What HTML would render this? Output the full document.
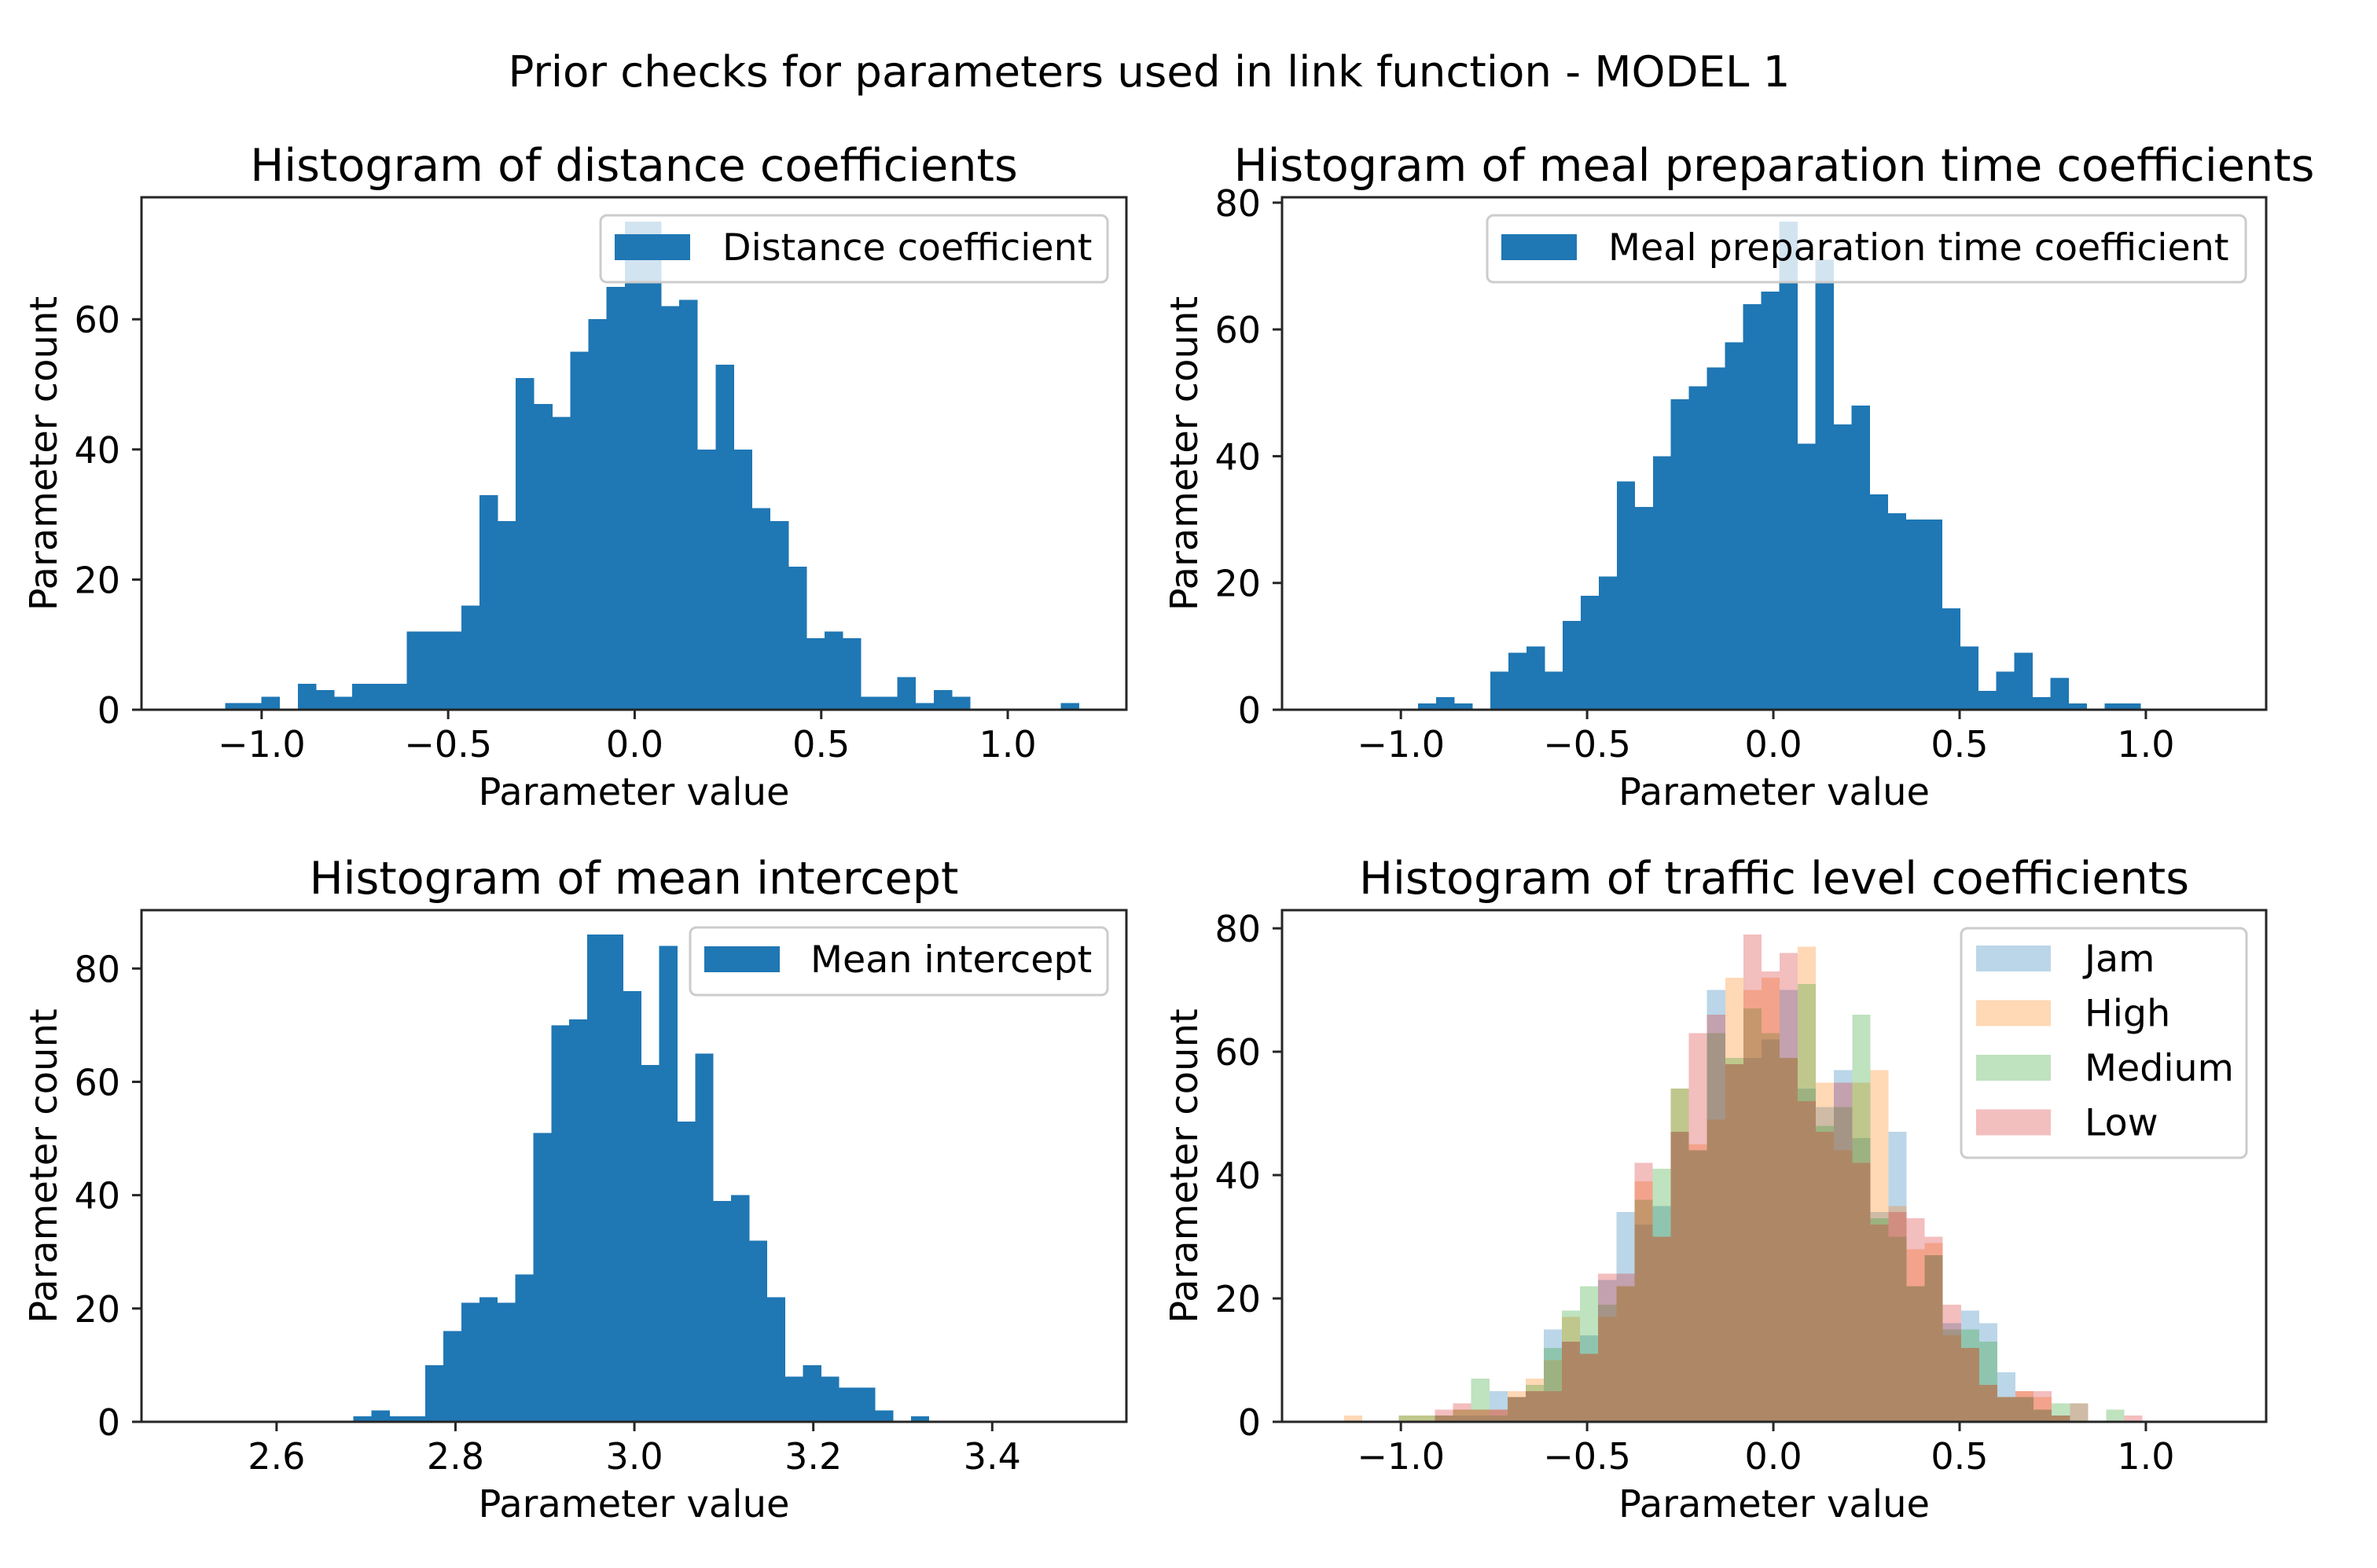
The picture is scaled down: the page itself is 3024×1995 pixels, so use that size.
<!DOCTYPE html>
<html><head><meta charset="utf-8"><style>
html,body{margin:0;padding:0;background:#fff;}
svg{display:block;font-family:"DejaVu Sans","Liberation Sans",sans-serif;}
</style></head><body>
<svg id="fig" width="3024" height="1995" viewBox="0 0 3024 1995" xmlns="http://www.w3.org/2000/svg">
<defs><clipPath id="figclip"><rect x="0" y="0" width="2944" height="1995"/></clipPath></defs>
<rect x="0" y="0" width="3024" height="1995" fill="#fff"/>
<text x="1462" y="110" font-size="54.6" text-anchor="middle">Prior checks for parameters used in link function - MODEL 1</text>
</svg>
<script>
// ---- data ----
const distStart = -1.098, distWidth = 0.0487;
const distCounts = [1,1,2,0,4,3,2,4,4,4,12,12,12,16,33,29,51,47,45,55,60,65,75,75,62,63,40,53,40,31,29,22,11,12,11,2,2,5,1,3,2,0,0,0,0,0,1];
const mealStart = -0.954, mealWidth = 0.0485;
const mealCounts = [1,2,1,0,6,9,10,6,14,18,21,36,32,40,49,51,54,58,64,66,77,42,71,45,48,34,31,30,30,16,10,3,6,9,2,5,1,0,1,1];
const interceptStart = 2.686, interceptWidth = 0.0201;
const interceptCounts = [1,2,1,1,10,16,21,22,21,26,51,70,71,86,86,76,63,84,53,65,39,40,32,22,8,10,8,6,6,2,0,1];
const trafficStart = -1.152, trafficWidth = 0.0487;
const trafficLabels = ["Jam","High","Medium","Low"];
const jamCounts =    [0,0,0,0,0,1,1,1,5,4,5,15,13,14,23,34,32,35,47,44,70,58,59,62,70,54,51,57,46,34,47,22,27,16,18,16,8,4,2,1,3,0,0,0];
const highCounts =   [1,0,0,1,1,1,2,2,2,5,7,10,17,11,17,22,39,30,54,45,49,72,70,72,59,77,55,44,55,57,35,28,29,14,12,6,4,5,4,1,3,0,0,0];
const mediumCounts = [0,0,0,1,1,1,2,7,1,4,6,12,18,22,19,22,36,41,54,44,63,59,67,63,59,71,48,51,66,33,30,22,27,15,15,13,4,4,2,3,0,0,2,0];
const lowCounts =    [0,0,0,0,0,2,3,2,2,4,5,5,13,11,24,24,42,30,47,63,66,58,79,73,76,52,47,55,42,32,34,33,30,19,12,6,4,5,5,1,0,0,0,1];
const coefTicks = [-1,-0.5,0,0.5,1];
const coefTickLabels = ["\u22121.0","\u22120.5","0.0","0.5","1.0"];
const interceptTicks = [2.6,2.8,3.0,3.2,3.4];
const interceptTickLabels = ["2.6","2.8","3.0","3.2","3.4"];
const yTicksDist = [0,20,40,60];
const yTicks80 = [0,20,40,60,80];

const NS = "http://www.w3.org/2000/svg";
const fig = document.getElementById('fig');
function mk(tag, attrs, parent){ const e=document.createElementNS(NS,tag); for(const k in attrs) e.setAttribute(k,attrs[k]); (parent||fig).appendChild(e); return e; }

const colors = ["#1f77b4","#ff7f0e","#2ca02c","#d62728"];

function panel(opt){
  const g = mk('g',{});
  
  
  const L=opt.x0, R=opt.x1, T=opt.y0, B=opt.y1;
  let maxC=0; opt.series.forEach(s=>s.counts.forEach(c=>{if(c>maxC)maxC=c;}));
  const ymax = maxC*1.05;
  const sx = v => L + (v-opt.xlim[0])/(opt.xlim[1]-opt.xlim[0])*(R-L);
  const sy = v => B - v/ymax*(B-T);
  opt.series.forEach((s,si)=>{
    const sg = mk('g',{fill:s.color,'fill-opacity':s.alpha},g);
    
    
    const pad = s.alpha<1 ? 0 : 0.4;
    s.counts.forEach((c,i)=>{
      if(c<=0) return;
      const xa = sx(s.start+i*s.width), xb = sx(s.start+(i+1)*s.width);
      const r = mk('rect',{x:xa,y:sy(c),width:xb-xa+pad,height:B-sy(c),'shape-rendering':'crispEdges'},sg);
      
      
    });
  });
  const fr = mk('rect',{x:L,y:T,width:R-L,height:B-T,fill:'none',stroke:'#262626','stroke-width':3},g);
  
  
  opt.xticks.forEach((v,i)=>{
    const x=sx(v);
    mk('line',{x1:x,x2:x,y1:B,y2:B+12,stroke:'#262626','stroke-width':3},g);
    const t=mk('text',{x:x,y:B+60,'font-size':46,'text-anchor':'middle'},g);
    t.textContent=opt.xtickLabels[i];
    
    
  });
  opt.yticks.forEach(v=>{
    const y=sy(v);
    mk('line',{x1:L-12,x2:L,y1:y,y2:y,stroke:'#262626','stroke-width':3},g);
    const t=mk('text',{x:L-27,y:y+17,'font-size':46,'text-anchor':'end'},g);
    t.textContent=String(v);
    
    
  });
  const cx=(L+R)/2, cy=(T+B)/2;
  const xl=mk('text',{x:cx,y:B+121,'font-size':48,'text-anchor':'middle'},g);
  xl.textContent='Parameter value';
  
  
  const yl=mk('text',{x:0,y:0,'font-size':48,'text-anchor':'middle',transform:`translate(${L-108},${cy}) rotate(-90)`},g);
  yl.textContent='Parameter count';
  
  
  const tt=mk('text',{x:cx,y:T-21,'font-size':57.2,'text-anchor':'middle','clip-path':'url(#figclip)'},g);
  tt.textContent=opt.title;
  
  
  const lg=opt.legend;
  const lgg=mk('g',{},g);
  
  
  mk('rect',{x:lg.x0,y:lg.y0,width:lg.x1-lg.x0,height:lg.y1-lg.y0,rx:8,fill:'#fff','fill-opacity':0.8,stroke:'#cccccc','stroke-width':3},lgg);
  opt.series.forEach((s,i)=>{
    const py=lg.py+i*lg.dy;
    const p=mk('rect',{x:lg.px,y:py,width:lg.pw,height:33,fill:s.color,'fill-opacity':s.alpha},lgg);
    
    
    const t=mk('text',{x:lg.tx,y:py+33,'font-size':47.5},lgg);
    t.textContent=s.label;
    
    
  });
}

panel({name:'distance-histogram',x0:180,x1:1433,y0:251,y1:903,xlim:[-1.322,1.318],
  xticks:coefTicks,xtickLabels:coefTickLabels,yticks:yTicksDist,title:'Histogram of distance coefficients',
  series:[{key:'distance',label:'Distance coefficient',counts:distCounts,start:distStart,width:distWidth,color:colors[0],alpha:1}],
  legend:{x0:764,x1:1409,y0:274,y1:359,px:782,pw:96,py:298,dy:0,tx:919}});
panel({name:'meal-prep-histogram',x0:1631,x1:2883,y0:251,y1:903,xlim:[-1.319,1.323],
  xticks:coefTicks,xtickLabels:coefTickLabels,yticks:yTicks80,title:'Histogram of meal preparation time coefficients',
  series:[{key:'meal',label:'Meal preparation time coefficient',counts:mealCounts,start:mealStart,width:mealWidth,color:colors[0],alpha:1}],
  legend:{x0:1892,x1:2857,y0:274,y1:359,px:1910,pw:96,py:298,dy:0,tx:2046}});
panel({name:'intercept-histogram',x0:180,x1:1433,y0:1158,y1:1809,xlim:[2.449,3.55],
  xticks:interceptTicks,xtickLabels:interceptTickLabels,yticks:yTicks80,title:'Histogram of mean intercept',
  series:[{key:'intercept',label:'Mean intercept',counts:interceptCounts,start:interceptStart,width:interceptWidth,color:colors[0],alpha:1}],
  legend:{x0:878,x1:1409,y0:1180,y1:1266,px:896,pw:96,py:1204,dy:0,tx:1031}});
panel({name:'traffic-histogram',x0:1631,x1:2883,y0:1158,y1:1809,xlim:[-1.319,1.323],
  xticks:coefTicks,xtickLabels:coefTickLabels,yticks:yTicks80,title:'Histogram of traffic level coefficients',
  series:[
    {key:'jam',label:trafficLabels[0],counts:jamCounts,start:trafficStart,width:trafficWidth,color:colors[0],alpha:0.3},
    {key:'high',label:trafficLabels[1],counts:highCounts,start:trafficStart,width:trafficWidth,color:colors[1],alpha:0.3},
    {key:'medium',label:trafficLabels[2],counts:mediumCounts,start:trafficStart,width:trafficWidth,color:colors[2],alpha:0.3},
    {key:'low',label:trafficLabels[3],counts:lowCounts,start:trafficStart,width:trafficWidth,color:colors[3],alpha:0.3}],
  legend:{x0:2495,x1:2858,y0:1181,y1:1473,px:2514,pw:95,py:1203,dy:69.5,tx:2652}});
</script>
</body></html>
